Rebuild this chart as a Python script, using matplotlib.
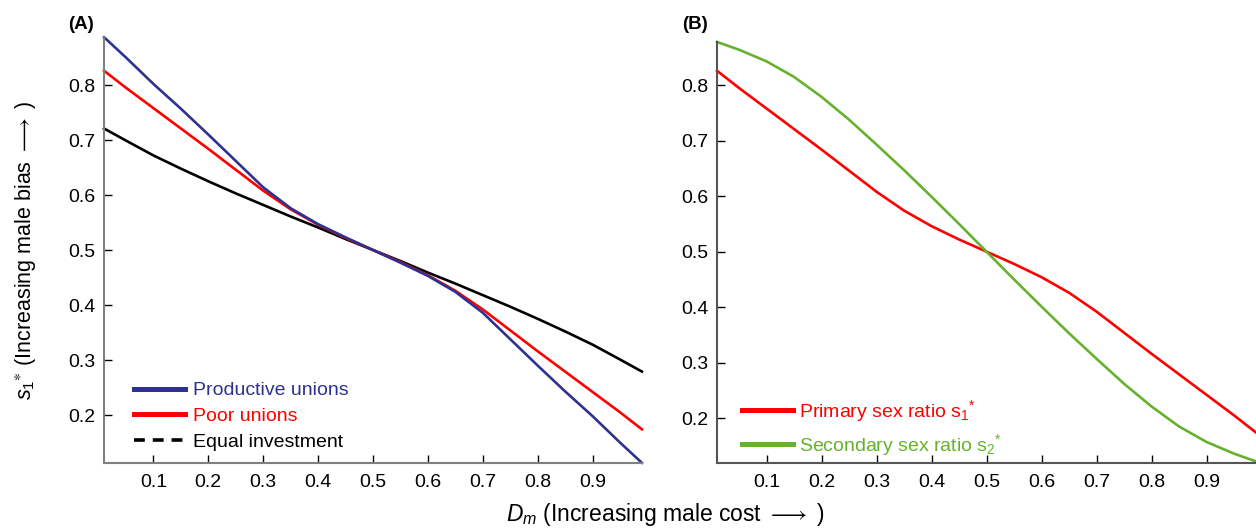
import matplotlib
matplotlib.use("Agg")
import matplotlib.pyplot as plt
from matplotlib.lines import Line2D

plt.rcParams['font.family'] = ['Liberation Sans', 'DejaVu Sans']
plt.rcParams['mathtext.fontset'] = 'custom'
plt.rcParams['mathtext.rm'] = 'Liberation Sans'
plt.rcParams['mathtext.it'] = 'Liberation Sans:italic'
plt.rcParams['mathtext.fallback'] = 'stixsans'

# values
d_m = [0.01, 0.05, 0.10, 0.15, 0.20, 0.25, 0.30, 0.35, 0.40, 0.45, 0.50,
       0.55, 0.60, 0.65, 0.70, 0.75, 0.80, 0.85, 0.90, 0.95, 0.99]
productive = [0.887, 0.850, 0.802, 0.757, 0.710, 0.662, 0.614, 0.576, 0.547, 0.523, 0.500,
              0.477, 0.453, 0.424, 0.386, 0.338, 0.290, 0.243, 0.198, 0.150, 0.113]
poor = [0.826, 0.795, 0.758, 0.721, 0.684, 0.646, 0.608, 0.574, 0.546, 0.522, 0.500,
        0.478, 0.454, 0.426, 0.392, 0.354, 0.316, 0.279, 0.242, 0.205, 0.174]
equal = [0.721, 0.699, 0.672, 0.648, 0.625, 0.603, 0.582, 0.561, 0.541, 0.520, 0.500,
         0.480, 0.459, 0.439, 0.418, 0.397, 0.375, 0.352, 0.328, 0.301, 0.279]
primary = poor
secondary = [0.878, 0.864, 0.843, 0.815, 0.779, 0.738, 0.693, 0.647, 0.599, 0.550, 0.500,
             0.450, 0.401, 0.353, 0.307, 0.262, 0.221, 0.185, 0.157, 0.136, 0.122]

xticks = [0.1, 0.2, 0.3, 0.4, 0.5, 0.6, 0.7, 0.8, 0.9]
yticks = [0.2, 0.3, 0.4, 0.5, 0.6, 0.7, 0.8]

blue = '#2e3192'
red = '#ff0000'
green = '#66b22e'

fig = plt.figure(figsize=(12.56, 5.31), dpi=100)
axA = fig.add_axes([0.0828, 0.1283, 0.4283, 0.8017])
axB = fig.add_axes([0.5709, 0.129, 0.4291, 0.792])


def style(ax, ylo, yhi, spine_col):
    ax.set_xlim(0.01, 0.99)
    ax.set_ylim(ylo, yhi)
    ax.set_xticks(xticks)
    ax.set_yticks(yticks)
    ax.set_xticklabels([str(t) for t in xticks])
    ax.set_yticklabels([str(t) for t in yticks])
    for s in ['top', 'right']:
        ax.spines[s].set_visible(False)
    for s in ['left', 'bottom']:
        ax.spines[s].set_color(spine_col)
        ax.spines[s].set_linewidth(1.5)
    ax.tick_params(direction='in', length=6, width=1, colors='black',
                   labelsize=14, pad=6)
    ax.tick_params(axis='x', pad=8)


# panel A
axA.plot(d_m, equal, color='black', lw=1.9, clip_on=False)
axA.plot(d_m, poor, color=red, lw=1.9, clip_on=False)
axA.plot(d_m, productive, color=blue, lw=1.9, clip_on=False)
style(axA, 0.113, 0.887, '#808080')
handlesA = [Line2D([], [], color=blue, lw=3.6),
            Line2D([], [], color=red, lw=3.6),
            Line2D([], [], color='black', lw=2.6, ls=(0, (3, 2.2)))]
legA = axA.legend(handlesA, ['Productive unions', 'Poor unions', 'Equal investment'],
                  loc='lower left', bbox_to_anchor=(0.024, -0.013), frameon=False,
                  fontsize=14, handlelength=2.6, handletextpad=0.4, labelspacing=0.42)
for t, c in zip(legA.get_texts(), [blue, red, 'black']):
    t.set_color(c)
axA.set_ylabel('$s_1$$^{\\ast}$ (Increasing male bias $\\longrightarrow$ )', fontsize=15.5)
axA.yaxis.set_label_coords(-0.12, 0.5)
fig.text(0.054, 0.945, '(A)', fontsize=13.5, fontweight='bold')

# panel B
axB.plot(d_m, primary, color=red, lw=1.9, clip_on=False)
axB.plot(d_m, secondary, color=green, lw=1.9, clip_on=False)
style(axB, 0.12, 0.878, '#555555')
handlesB = [Line2D([], [], color=red, lw=3.6),
            Line2D([], [], color=green, lw=3.6)]
legB = axB.legend(handlesB, ['Primary sex ratio s$_1$$^{*}$', 'Secondary sex ratio s$_2$$^{*}$'],
                  loc='lower left', bbox_to_anchor=(0.014, -0.03), frameon=False,
                  fontsize=14, handlelength=2.6, handletextpad=0.35, labelspacing=0.42)
for t, c in zip(legB.get_texts(), [red, green]):
    t.set_color(c)
fig.text(0.543, 0.945, '(B)', fontsize=13.5, fontweight='bold')

fig.text(0.53, 0.018, '$D_m$ (Increasing male cost $\\longrightarrow$ )', fontsize=16.5, ha='center')

fig.savefig('out.png', dpi=100)
